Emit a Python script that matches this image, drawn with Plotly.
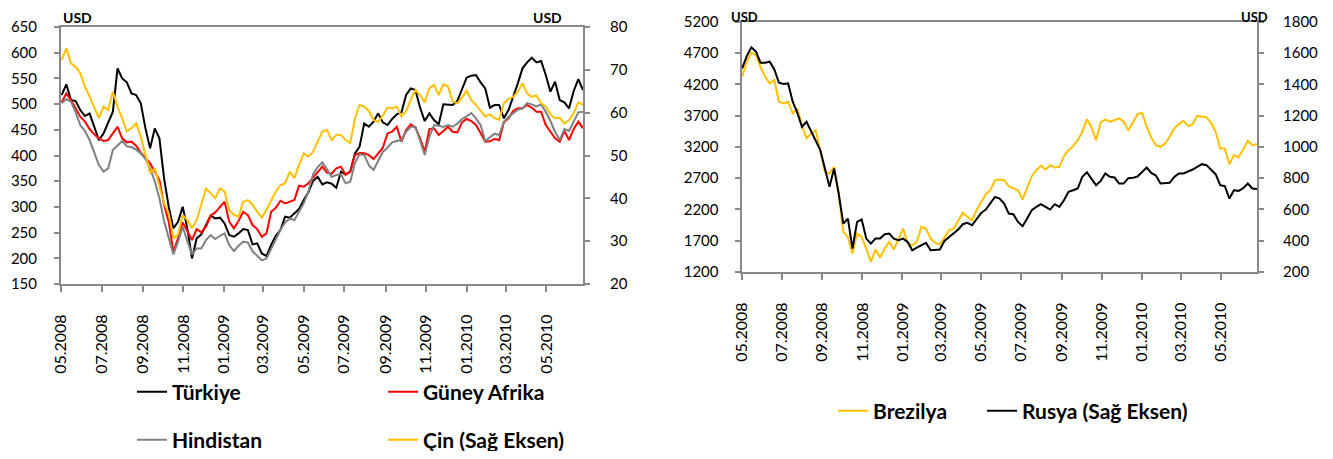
import pandas as pd
import plotly.graph_objects as go

# ---------------- data (weekly readings, 05.2008 - 06.2010) ----------------
dates = pd.date_range("2008-05-02", periods=113, freq="7D")

turkiye = [517.7, 538.4, 507.9, 506, 488.5, 476.8, 482, 456, 430, 443, 465.8, 485.2, 569.6, 550, 542.3, 520.9,
           517.7, 501.5, 452.8, 413.9, 452.8, 433.3, 355.5, 300.4, 258.2, 271.2, 300.4, 258.2, 199.8, 238.7, 246.5,
           266, 282.8, 277.6, 279, 267.9, 245.2, 242,
           248.5, 257, 255, 227, 229, 209.5, 204.3, 225.8, 243.9, 255, 280.9, 279, 287.4, 295.8, 313.3, 328.3, 350.3,
           358.7, 343.8, 347.7, 345.1, 337.3, 368.5, 363.3, 368.5, 404.2, 417.1, 462.5, 456, 465.8, 482, 464.5, 459.3,
           471, 480, 483.9, 517.7, 530.6,
           527.4, 493, 467, 482, 469, 460.6, 499.5, 498.2, 498.2, 506, 527.4, 551.4, 555.3, 556.6, 542.3, 530.6, 493,
           498.2, 498.2, 472.3, 488.5, 512.5, 540.4, 569.6, 581.2, 590.3, 581.2, 583.8, 556.6, 524.2, 543.6, 507.9,
           503.4, 491.7, 525.5, 548.8, 527.4]

guney_afrika = [503.4, 520.9, 507.9, 491.7, 475.5, 465.8, 451.5, 441.1, 433.3, 428.2, 430.1, 443, 456, 433.3, 425.6,
                426.9, 419.1, 405.4, 394.4, 384.7, 368.5, 352.3, 303.6, 271.2, 212.8, 238.7, 269.9, 253, 235.5, 256.9,
                250.4, 261.4, 282.8, 289.3, 300.4, 310.1, 271.2, 258.2,
                272.5, 290.6, 284.1, 264.7, 256.9, 242, 248.5, 290.6, 298.4, 312, 306.8, 310.1, 313.3, 341.2, 339.3,
                345.8, 356.8, 368.5, 378.2, 366.5, 364.6, 375, 378.2, 362.6, 368.5, 400.9, 404.8, 404.2, 400.9, 393.1,
                404.2, 415.2, 443, 446.3, 456, 426.9, 449.6, 460.6,
                454.1, 433.3, 407.4, 451.5, 452.8, 439.8, 447.6, 456, 446.3, 445, 464.5, 471, 467.1, 459.3, 443.7,
                426.9, 427.5, 432, 430.1, 464.5, 472.3, 486.5, 491.7, 491.7, 498.2, 493, 485.2, 485.2, 459.3, 446.3,
                433.3, 426.9, 447.6, 430.1, 451.5, 465.8, 452.8]

hindistan = [501.5, 509.9, 504.7, 483.9, 459.3, 447.6, 430.1, 407.4, 381.4, 368.5, 375, 410.6, 419.1, 428.2, 417.8,
             416.5, 411.3, 404.2, 393.1, 375, 350.3, 316.6, 272.5, 238.7, 207.6, 232.2, 261.4, 233.5, 207.6, 219.3,
             219.3, 235.5, 245.2, 237.4, 243.9, 248.5, 225.8, 214.1,
             224.4, 232.2, 230.9, 214.1, 205, 195.9, 199.8, 219.3, 237.4, 255, 269.9, 277, 274.4, 290, 306.8, 329.6,
             363.3, 377.5, 386.6, 373, 358.1, 362, 363.3, 345.8, 349, 384.7, 402.2, 400.9, 381.4, 371.7, 391.2, 407.4,
             415.2, 425.6, 428.2, 430.1, 446.3, 456,
             456, 428.2, 400.9, 436.6, 459.3, 458, 455.4, 459.3, 456, 461.9, 471, 476.2, 482.6, 472.3, 459.3, 428.2,
             435.9, 442.4, 439.8, 465.8, 474.9, 482.6, 489.1, 491.7, 502.1, 499.5, 495.6, 499.5, 485.2, 467.1, 446.3,
             430.1, 451.5, 447.6, 467.1, 483.9, 485.2]

cin = [72.3, 75.0, 71.5, 70.7, 69.2, 66.1, 63.8, 61.4, 58.7, 61.4, 60.6, 64.9, 61.4, 58.7, 55.6, 56.4, 57.5, 54.4,
       50.1, 45.9, 47.0, 43.1, 38.8, 36.5, 30.7, 31.5, 36.1, 34.9, 33.0, 34.9, 38.5, 42.3, 41.2, 40.0, 42.3, 41.6,
       37.3, 36.1,
       35.7, 39.2, 39.6, 38.5, 36.9, 35.5, 37.3, 39.6, 41.6, 43.1, 43.5, 46.2, 44.7, 47.8, 50.5, 49.7, 50.9, 53.2,
       55.6, 56.0, 53.6, 54.8, 54.8, 53.6, 52.9, 58.7, 61.8, 61.4, 60.4, 58.3, 57.8, 59.3, 61.2, 61.0, 61.4, 59.1,
       60.4, 63.0,
       65.3, 64.1, 62.4, 65.7, 66.5, 64.1, 66.6, 66.1, 62.6, 62.2, 63.5, 65.1, 63.0, 61.8, 60.4, 59.1, 59.6, 58.7,
       58.3, 62.2, 63.2, 63.7, 64.9, 66.9, 64.5, 63.7, 64.0, 62.2, 61.4, 59.6, 58.7, 58.8, 57.5, 58.3, 59.9, 62.4,
       61.8]

brezilya = [4321, 4561, 4705, 4667, 4470, 4321, 4214, 4267, 3921, 3894, 3921, 3734, 3814, 3547, 3334, 3414, 3467,
            3147, 2801, 2774, 2881, 2454, 1841, 1761, 1494, 1814, 1761, 1574, 1361, 1558, 1430, 1574, 1681, 1558,
            1734, 1894, 1665, 1627,
            1681, 1921, 1894, 1734, 1665, 1643, 1750, 1868, 1894, 2017, 2145, 2081, 2027, 2187, 2305, 2443, 2507,
            2667, 2678, 2667, 2571, 2534, 2507, 2358, 2534, 2731, 2827, 2902, 2838, 2907, 2870, 2881, 3051, 3147,
            3211, 3307, 3441,
            3643, 3510, 3307, 3590, 3638, 3601, 3627, 3654, 3601, 3467, 3585, 3723, 3745, 3521, 3350, 3227, 3201,
            3254, 3361, 3494, 3563, 3617, 3531, 3563, 3697, 3681, 3670, 3585, 3441, 3174, 3174, 2923, 3067, 3030,
            3174, 3297, 3227, 3240]

rusya = [1501.6, 1580.5, 1636, 1608.2, 1537.8, 1537.8, 1544.2, 1495.2, 1409.8, 1401.3, 1405.6, 1288.2, 1217.8,
         1128.2, 1160.2, 1096.2, 1042.9, 978.9, 861.6, 744.2, 861.6, 701.6, 509.6, 541.6, 349.6, 520.3, 535.2, 413.6,
         381.6, 413.6, 413.6, 441.3, 445.6, 413.6, 402.9, 413.6, 392.3, 338.9,
         355.9, 370.9, 385.9, 338.9, 343.2, 343.2, 398.6, 424.3, 449.8, 471.2, 505.3, 513.9, 499, 541.6, 577.9,
         599.2, 641.9, 680.2, 669.6, 637.6, 573.6, 569.3, 520.3, 492.5, 541.6, 594.9, 616.2, 633.3, 616.2, 599.2,
         633.3, 616.2, 658.9, 712.3, 722.9, 733.6, 808.2,
         838, 795.5, 754.9, 782.6, 829.6, 808.2, 804, 765.5, 765.5, 799.7, 801.8, 810.4, 840.3, 868, 833.8, 816.8,
         765.5, 765.5, 769.8, 808.2, 829.6, 829.6, 840.3, 855.2, 872.2, 889.3, 883, 855.2, 825.3, 754.9, 748.5,
         669.6, 722.9, 718.6, 735.7, 765.5, 733.6, 730]

x_range = ["2008-05-01", "2010-06-25"]

# ---------------- styling ----------------
OFF = 8                       # page body margin
W, H = 1333 - 2 * OFF, 459 - 2 * OFF
AX = "#898989"
FONT = "Lato"
BLACK, RED, GRAY, GOLD = "#000000", "#FF0000", "#808080", "#FFC000"


def px(v):
    return (v - OFF) / W


def py(v):
    return 1 - (v - OFF) / H


fig = go.Figure()
fig.add_trace(go.Scatter(x=dates, y=turkiye, name="Türkiye", mode="lines", showlegend=True,
                         line=dict(color=BLACK, width=2), xaxis="x", yaxis="y", legend="legend2"))
fig.add_trace(go.Scatter(x=dates, y=guney_afrika, name="Güney Afrika", mode="lines", showlegend=True,
                         line=dict(color=RED, width=2), xaxis="x", yaxis="y", legend="legend3"))
fig.add_trace(go.Scatter(x=dates, y=hindistan, name="Hindistan", mode="lines", showlegend=True,
                         line=dict(color=GRAY, width=2), xaxis="x", yaxis="y", legend="legend4"))
fig.add_trace(go.Scatter(x=dates, y=cin, name="Çin (Sağ Eksen)", mode="lines", showlegend=True,
                         line=dict(color=GOLD, width=2), xaxis="x", yaxis="y2", legend="legend5"))
fig.add_trace(go.Scatter(x=dates, y=brezilya, name="Brezilya", mode="lines", showlegend=True,
                         line=dict(color=GOLD, width=2), xaxis="x2", yaxis="y3", legend="legend6"))
fig.add_trace(go.Scatter(x=dates, y=rusya, name="Rusya (Sağ Eksen)", mode="lines", showlegend=True,
                         line=dict(color=BLACK, width=2), xaxis="x2", yaxis="y4", legend="legend7"))

tickfont = dict(family=FONT, size=16, color="#000000")
ytickfont = dict(family=FONT, size=15, color="#000000")

xcommon = dict(type="date", range=x_range, tick0="2008-05-01", dtick="M2", tickformat="%m.%Y",
               tickangle=-90, ticks="outside", ticklen=6, tickcolor=AX, tickwidth=1.5,
               showline=True, linecolor=AX, linewidth=2, mirror=True, showgrid=False, zeroline=False,
               tickfont=tickfont, ticklabelstandoff=16, automargin=False)
ycommon = dict(ticks="outside", ticklen=5, tickcolor=AX, tickwidth=1.5, showline=True, linecolor=AX,
               linewidth=2, showgrid=False, zeroline=False, tickfont=ytickfont, automargin=False)

legfont = dict(family=FONT, size=21, color="#000000", weight="bold")


def leg(text_x, y):
    return dict(x=px(text_x - 40), y=py(y), xanchor="left", yanchor="middle", bgcolor="rgba(0,0,0,0)",
                font=legfont, borderwidth=0)


fig.update_layout(
    width=W, height=H, autosize=False,
    margin=dict(l=0, r=0, t=0, b=0, autoexpand=False),
    paper_bgcolor="white", plot_bgcolor="white",
    showlegend=True,
    xaxis=dict(domain=[px(61), px(583)], anchor="y", **xcommon),
    yaxis=dict(domain=[py(284), py(27)], anchor="x", range=[150, 650], tick0=150, dtick=50,
               ticklabelstandoff=14, **ycommon),
    yaxis2=dict(overlaying="y", side="right", anchor="x", range=[20, 80], tick0=20, dtick=10,
                ticklabelstandoff=17, **ycommon),
    xaxis2=dict(domain=[px(741.5), px(1257)], anchor="y3", **xcommon),
    yaxis3=dict(domain=[py(272), py(21.7)], anchor="x2", range=[1200, 5200], tick0=1200, dtick=500,
                ticklabelstandoff=13, **ycommon),
    yaxis4=dict(overlaying="y3", side="right", anchor="x2", range=[200, 1800], tick0=200, dtick=200,
                ticklabelstandoff=16, **ycommon),
    legend2=leg(172, 392),
    legend3=leg(423, 392),
    legend4=leg(172, 440),
    legend5=leg(423, 440),
    legend6=leg(873, 411),
    legend7=leg(1022, 411),
)

# "USD" unit labels above the axes
for xc, yc, fs in [(77, 17.5, 14), (547, 17.5, 14), (744, 16.6, 13), (1254, 16.6, 13)]:
    fig.add_annotation(text="USD", x=px(xc), y=py(yc), xref="paper", yref="paper",
                       xanchor="center", yanchor="middle", showarrow=False, borderpad=0,
                       font=dict(family=FONT, size=fs, color="#000000", weight="bold"))

fig.write_html("out.html")
